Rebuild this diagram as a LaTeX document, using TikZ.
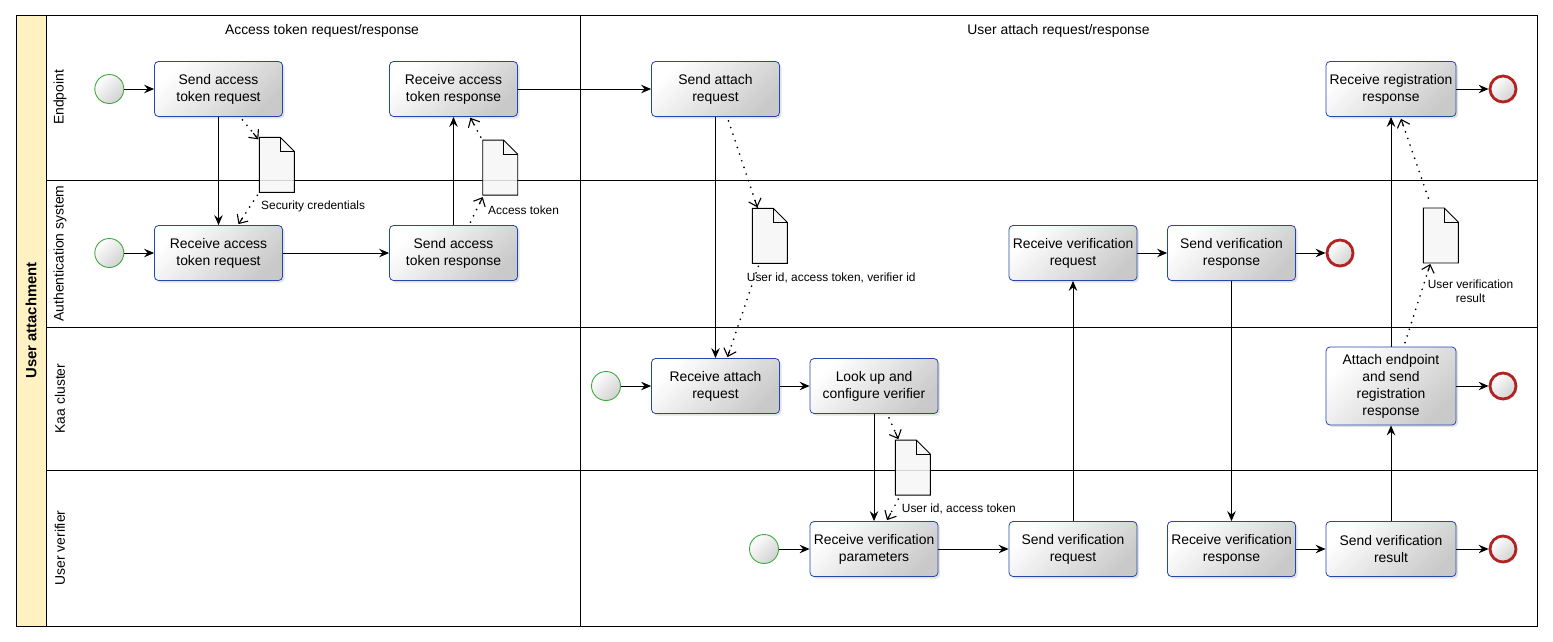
\documentclass[tikz,border=0pt]{standalone}
\usepackage{fontspec}
\setmainfont{Liberation Sans}
\usetikzlibrary{arrows.meta,shadows,calc}

\definecolor{taskblue}{RGB}{36,72,168}
\definecolor{poolyellow}{RGB}{255,242,194}
\definecolor{startgreen}{RGB}{64,170,64}
\definecolor{endred}{RGB}{178,34,34}
\definecolor{docfill}{RGB}{246,246,246}

\tikzset{
  task/.style={draw=taskblue, line width=0.8pt, rounded corners=4pt,
    minimum width=128pt, minimum height=55pt, inner sep=0pt, align=center,
    font=\fontsize{13.9}{17}\selectfont,
    top color=white, bottom color=black!21, shading angle=45,
    drop shadow={shadow xshift=2pt, shadow yshift=-2pt, opacity=0.22}},
  startev/.style={circle, draw=startgreen, line width=0.9pt, minimum size=29pt,
    inner sep=0pt, top color=white, bottom color=black!18, shading angle=45},
  endev/.style={circle, draw=endred, line width=2.8pt, minimum size=26pt,
    inner sep=0pt, top color=white, bottom color=black!18, shading angle=45,
    drop shadow={shadow xshift=1.5pt, shadow yshift=-1.5pt, opacity=0.2}},
  docnode/.style={minimum width=35pt, minimum height=55pt, inner sep=0pt, outer sep=0pt},
  docline/.style={draw=black, line width=0.9pt, fill=docfill, fill opacity=0.85},
  doclabel/.style={font=\fontsize{11.9}{13.5}\selectfont, inner sep=0pt},
  lanelabel/.style={rotate=90, font=\fontsize{13.9}{17}\selectfont},
  header/.style={font=\fontsize{13.9}{17}\selectfont},
  flow/.style={line width=0.9pt, -{Stealth[length=10pt,width=8.5pt,inset=3.5pt]}},
  assocdots/.style={line width=1.9pt, dash pattern=on 0pt off 7pt, line cap=round},
  assoctip/.style={line width=1.1pt, line cap=round,
    -{Straight Barb[length=7pt,width=13pt]}},
  frame/.style={line width=0.9pt}
}
% dotted data association: dots along the whole path, solid open tip at its end
\newcommand{\dataassoc}[2]{%
  \draw[assocdots] #1 -- #2;
  \draw[assoctip] ($#2!7.5pt!#1$) -- #2;
}

\begin{document}
\begin{tikzpicture}[x=1pt,y=-1pt]
\useasboundingbox (0,0) rectangle (1553,641);

% pool band and lanes
\fill[poolyellow] (16,15) rectangle (46,626);
\draw[frame] (16,15) rectangle (1537,626);
\draw[frame] (46,15) -- (46,626);
\draw[frame] (46,180) -- (1537,180);
\draw[frame] (46,327) -- (1537,327);
\draw[frame] (46,470) -- (1537,470);
\draw[frame] (580,15) -- (580,626);

\node[rotate=90, font=\bfseries\fontsize{14.8}{17}\selectfont] (pool) at (31,320.5) {User attachment};
\node[lanelabel] (lEnd) at (60,97.5) {Endpoint};
\node[lanelabel] (lAuth) at (60,253.5) {Authentication system};
\node[lanelabel] (lKaa) at (60,398.5) {Kaa cluster};
\node[lanelabel] (lVer) at (60,548) {User verifier};

\node[header] (h1) at (322,31) {Access token request/response};
\node[header] (h2) at (1058.5,31) {User attach request/response};

% data objects
\node[docnode] (d1) at (276.8,164.8) {};
\node[docnode] (d2) at (500.2,167.6) {};
\node[docnode] (d3) at (769.8,235.8) {};
\node[docnode] (d4) at (912.8,467.6) {};
\node[docnode] (d5) at (1440.8,235.5) {};
\foreach \d in {d1,d2,d3,d4,d5}{
  \path[docline] (\d.south west) -- (\d.north west) -- ([xshift=-14pt]\d.north east)
     -- ([yshift=-14pt]\d.north east) -- (\d.south east) -- cycle;
  \draw[line width=0.9pt] ([xshift=-14pt]\d.north east) -- ([shift={(-14pt,-14pt)}]\d.north east)
     -- ([yshift=-14pt]\d.north east);
}
\node[doclabel, anchor=west] (t1) at (261,206) {Security credentials};
\node[doclabel, anchor=west] (t2) at (488,210) {Access token};
\node[doclabel, anchor=west] (t3) at (746.7,278) {User id, access token, verifier id};
\node[doclabel, anchor=west] (t4) at (901.7,509) {User id, access token};
\node[doclabel, align=center] (t5) at (1470.5,291) {User verification\\result};

% events
\node[startev] (s1) at (109.3,89) {};
\node[startev] (s2) at (109.3,253) {};
\node[startev] (s3) at (606,386) {};
\node[startev] (s4) at (764,549) {};
\node[endev] (e1) at (1503,89) {};
\node[endev] (e2) at (1340,253) {};
\node[endev] (e3) at (1503,386) {};
\node[endev] (e4) at (1503,549) {};

% tasks
\node[task] (eSendTok) at (218.5,89) {Send access\\token request};
\node[task] (eRecvTok) at (453.5,89) {Receive access\\token response};
\node[task] (eSendAtt) at (715.5,89) {Send attach\\request};
\node[task, minimum width=130pt] (eRecvReg) at (1391,89) {Receive registration\\response};
\node[task] (aRecvTok) at (218.5,253) {Receive access\\token request};
\node[task] (aSendTok) at (453.5,253) {Send access\\token response};
\node[task] (aRecvVer) at (1073,253) {Receive verification\\request};
\node[task] (aSendVer) at (1231.5,253) {Send verification\\response};
\node[task] (kRecvAtt) at (715.5,386) {Receive attach\\request};
\node[task] (kLookup) at (874,386) {Look up and\\configure verifier};
\node[task, minimum width=130pt, minimum height=78pt] (kAttach) at (1391,386)
  {Attach endpoint\\and send\\registration\\response};
\node[task] (vRecvPar) at (874,549) {Receive verification\\parameters};
\node[task] (vSendReq) at (1073,549) {Send verification\\request};
\node[task] (vRecvResp) at (1231.5,549) {Receive verification\\response};
\node[task, minimum width=130pt] (vSendRes) at (1391,549) {Send verification\\result};

% sequence flows
\draw[flow] (s1) -- (eSendTok);
\draw[flow] (eSendTok) -- (aRecvTok);
\draw[flow] (s2) -- (aRecvTok);
\draw[flow] (aRecvTok) -- (aSendTok);
\draw[flow] (aSendTok) -- (eRecvTok);
\draw[flow] (eRecvTok) -- (eSendAtt);
\draw[flow] (eSendAtt) -- (kRecvAtt);
\draw[flow] (s3) -- (kRecvAtt);
\draw[flow] (kRecvAtt) -- (kLookup);
\draw[flow] (kLookup) -- (vRecvPar);
\draw[flow] (s4) -- (vRecvPar);
\draw[flow] (vRecvPar) -- (vSendReq);
\draw[flow] (vSendReq) -- (aRecvVer);
\draw[flow] (aRecvVer) -- (aSendVer);
\draw[flow] (aSendVer) -- (e2);
\draw[flow] (aSendVer) -- (vRecvResp);
\draw[flow] (vRecvResp) -- (vSendRes);
\draw[flow] (vSendRes) -- (e4);
\draw[flow] (vSendRes) -- (kAttach);
\draw[flow] (kAttach) -- (e3);
\draw[flow] (kAttach) -- (eRecvReg);
\draw[flow] (eRecvReg) -- (e1);

% data associations
\dataassoc{([shift={(24pt,-3pt)}]eSendTok.south)}{([shift={(-1pt,-2pt)}]d1.north west)}
\dataassoc{([shift={(-2pt,-3pt)}]d1.south west)}{([shift={(20pt,1pt)}]aRecvTok.north)}
\dataassoc{([shift={(17pt,3pt)}]aSendTok.north)}{([shift={(0pt,-2pt)}]d2.south west)}
\dataassoc{([shift={(-2pt,3pt)}]d2.north west)}{([shift={(17pt,-1pt)}]eRecvTok.south)}
\dataassoc{([shift={(13pt,-4pt)}]eSendAtt.south)}{([shift={(5pt,1pt)}]d3.north west)}
\dataassoc{([shift={(6pt,-3pt)}]d3.south west)}{([shift={(12pt,1pt)}]kRecvAtt.north)}
\dataassoc{([shift={(15pt,-4pt)}]kLookup.south)}{([shift={(3pt,1pt)}]d4.north west)}
\dataassoc{([shift={(3pt,-4pt)}]d4.south west)}{([shift={(13pt,1pt)}]vRecvPar.north)}
\dataassoc{([shift={(14pt,4pt)}]kAttach.north)}{([shift={(7pt,-1pt)}]d5.south west)}
\dataassoc{([shift={(5pt,10pt)}]d5.north west)}{([shift={(10pt,-2pt)}]eRecvReg.south)}
\end{tikzpicture}
\end{document}
